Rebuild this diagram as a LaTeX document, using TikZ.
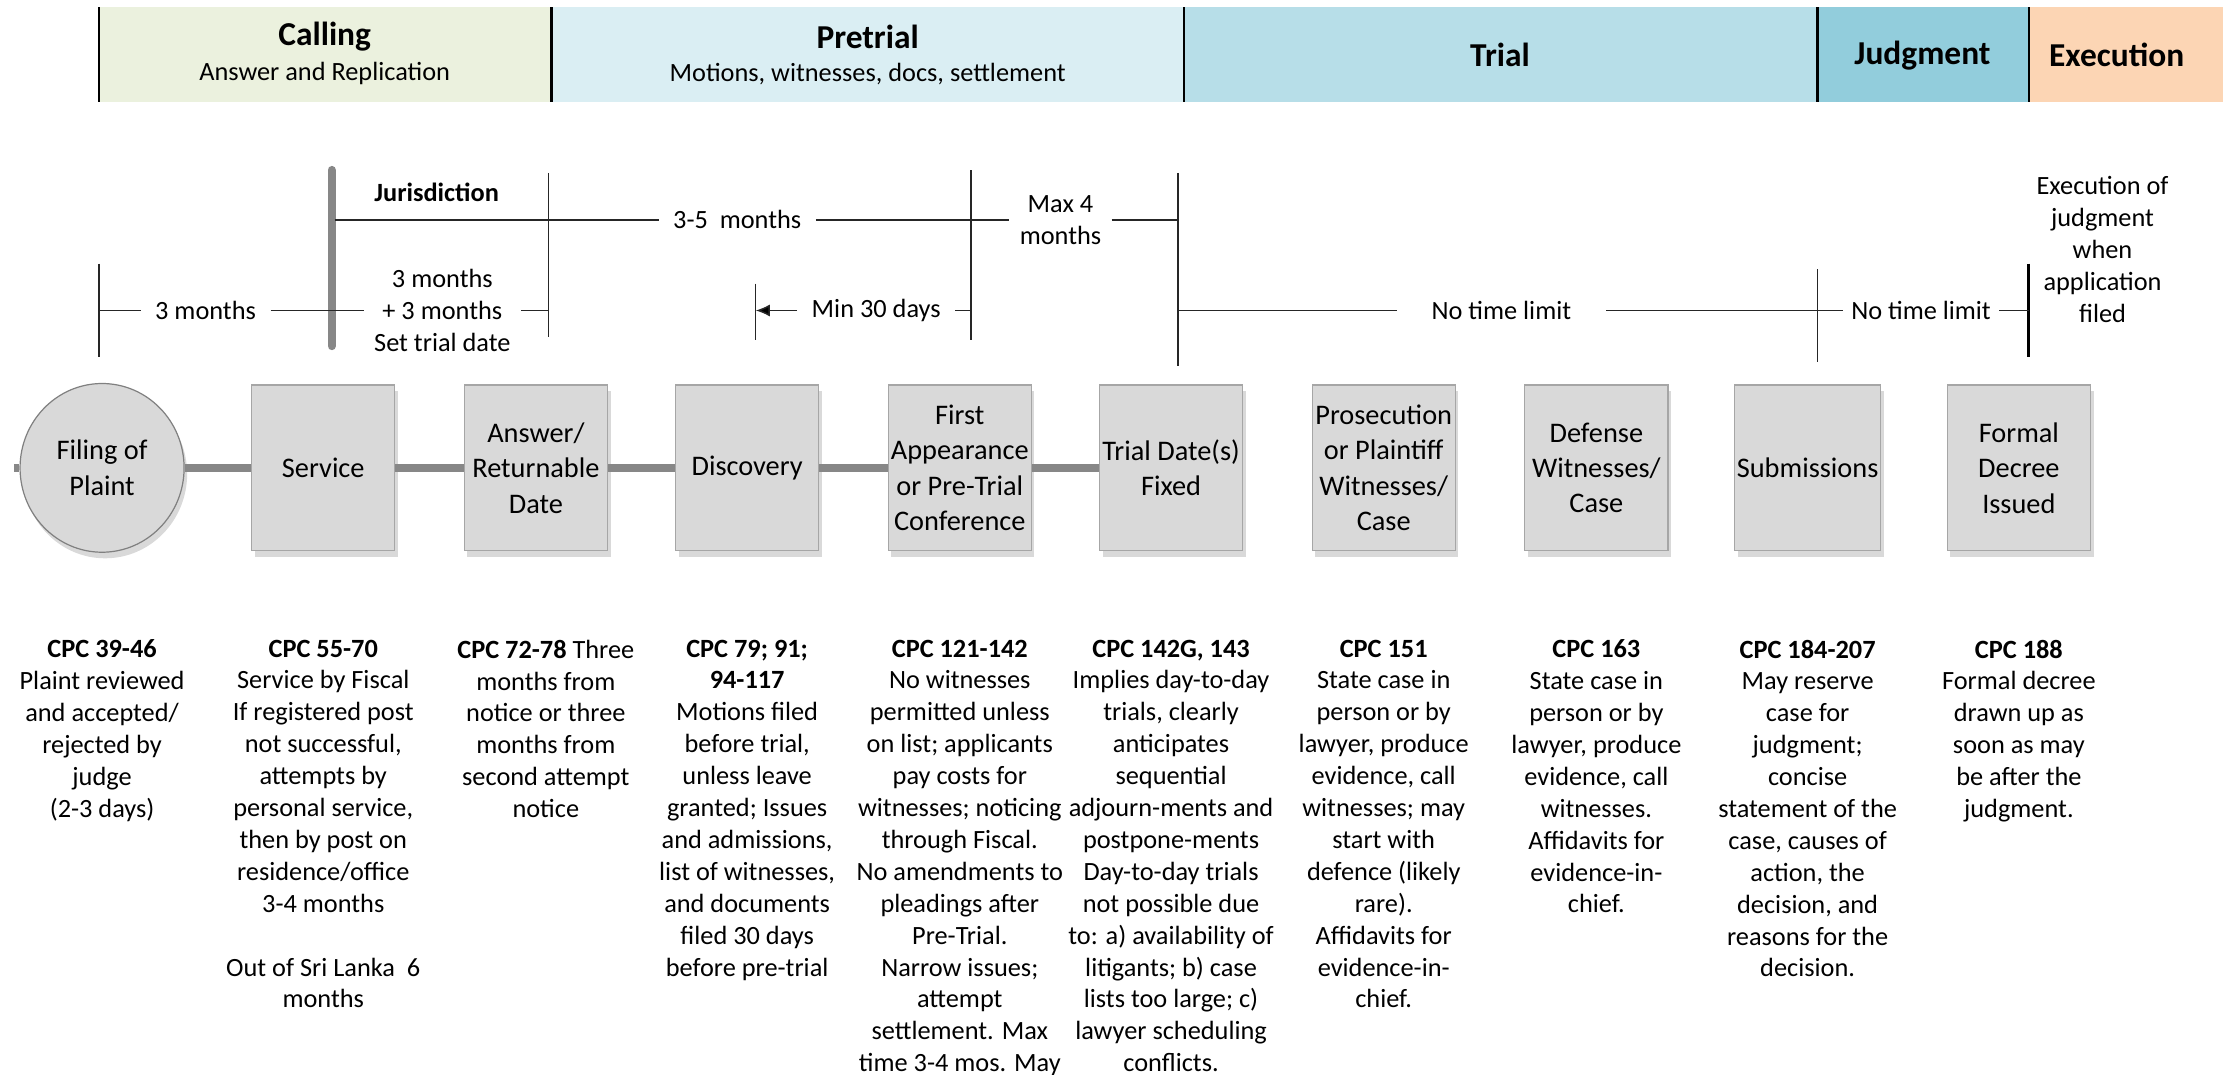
\documentclass[tikz,border=0pt]{standalone}
\usepackage{fontspec}
\setmainfont{Carlito}
\usetikzlibrary{shapes.geometric,shadows,arrows.meta,positioning}
\definecolor{callingfill}{HTML}{EBF1DE}
\definecolor{pretrialfill}{HTML}{DAEEF3}
\definecolor{trialfill}{HTML}{B7DEE8}
\definecolor{judgmentfill}{HTML}{92CDDC}
\definecolor{executionfill}{HTML}{FCD5B4}
\definecolor{boxfill}{HTML}{D9D9D9}
\definecolor{boxline}{HTML}{A6A6A6}
\definecolor{linkgray}{HTML}{878787}
\newcommand{\notefont}{\fontsize{13}{15.75}\selectfont}
\newcommand{\boxfont}{\fontsize{14}{17.5}\selectfont}
\newcommand{\titlefont}{\fontsize{16.5}{19}\selectfont\bfseries}
\begin{document}
\begin{tikzpicture}[x=0.7pt,y=-0.7pt,
    stage node/.style={rectangle,draw=boxline,line width=0.6pt,fill=boxfill,minimum width=70.7pt,minimum height=81.9pt,inner sep=1pt,align=center,font=\boxfont,drop shadow={shadow xshift=1.5pt,shadow yshift=-3pt,opacity=0.3}},
    start node/.style={ellipse,draw=black!50,line width=0.6pt,fill=boxfill,minimum width=81pt,minimum height=83.3pt,inner sep=1pt,align=center,font=\boxfont,drop shadow={shadow xshift=1.5pt,shadow yshift=-3pt,opacity=0.3}},
    time label/.style={align=center,font=\notefont,inner xsep=7pt,inner ysep=1pt},
    note node/.style={align=center,anchor=north,font=\notefont,inner sep=0pt},
    time line/.style={draw=black!85,line width=0.75pt},
    link/.style={draw=linkgray,line width=4.2pt}]
    \useasboundingbox (0,0) rectangle (1568,758);

    % phase band
    \fill[callingfill] (70,5) rectangle (389,72);
    \fill[pretrialfill] (389,5) rectangle (835,72);
    \fill[trialfill] (835,5) rectangle (1282,72);
    \fill[judgmentfill] (1282,5) rectangle (1431,72);
    \fill[executionfill] (1431,5) rectangle (1568,72);
    \draw[line width=1.2pt] (70,5) -- (70,72);
    \draw[line width=1.2pt] (389,5) -- (389,72);
    \draw[line width=1.2pt] (835,5) -- (835,72);
    \draw[line width=1.2pt] (1282,5) -- (1282,72);
    \draw[line width=1.2pt] (1431,5) -- (1431,72);
    \node[font=\titlefont] at (229,26) (calling) {Calling};
    \node[font=\notefont] at (229,52) (callingsub) {Answer and Replication};
    \node[font=\titlefont] at (612,26) (pretrial) {Pretrial};
    \node[font=\notefont] at (612,52) (pretrialsub) {Motions, witnesses, docs, settlement};
    \node[font=\titlefont] at (1058,39) (trial) {Trial};
    \node[font=\titlefont] at (1356,39) (judgment) {Judgment};
    \node[font=\titlefont] at (1493,39) (execution) {Execution};

    % time limits
    \coordinate (jtop) at (234,120);
    \coordinate (jbot) at (234,244);
    \draw[draw=linkgray,line width=4.2pt,line cap=round] (jtop) -- (jbot);
    \node[font=\notefont\bfseries] at (308,136) (jur) {Jurisdiction};
    \draw[time line] (70,186) -- (70,252);
    \draw[time line] (387,122) -- (387,238);
    \draw[time line] (533,200) -- (533,240);
    \draw[time line] (685,120) -- (685,240);
    \draw[time line] (831,122) -- (831,258);
    \draw[time line] (1282,190) -- (1282,255);
    \draw[line width=1.5pt] (1431,186) -- (1431,252);
    \coordinate (a0) at (70,219);
    \coordinate (b0) at (387,219);
    \coordinate (c0) at (533,219);
    \coordinate (d0) at (685,219);
    \coordinate (e0) at (831,219);
    \coordinate (f0) at (1282,219);
    \coordinate (g0) at (1431,219);
    \coordinate (j1) at (236,155);
    \coordinate (c1) at (685,155);
    \coordinate (d1) at (831,155);
    \node[time label] at (145,219) (three) {3 months};
    \node[time label,inner xsep=5pt] at (312,219) (sixm) {3 months\\+ 3 months\\Set trial date};
    \node[time label] at (520,155) (threefive) {3-5\ \ months};
    \node[time label,inner xsep=5pt] at (748,155) (maxfour) {Max 4\\months};
    \node[time label] at (618,219) (minthirty) {Min 30 days};
    \node[time label,inner xsep=17pt] at (1059,219) (nolimit) {No time limit};
    \node[time label,inner xsep=4pt] at (1355,219) (nolimitb) {No time limit};
    \node[time label] at (1483,176) (exec) {Execution of\\judgment\\when\\application\\filed};
    \path[time line] (a0) edge (three);
    \path[time line] (three) edge (sixm);
    \path[time line] (sixm) edge (b0);
    \path[time line] (j1) edge (threefive);
    \path[time line] (threefive) edge (c1);
    \path[time line] (c1) edge (maxfour);
    \path[time line] (maxfour) edge (d1);
    \path[time line,-{Latex[length=7pt,width=6pt]}] (minthirty) edge (c0);
    \path[time line] (minthirty) edge (d0);
    \path[time line] (e0) edge (nolimit);
    \path[time line] (nolimit) edge (f0);
    \path[time line] (f0) edge (nolimitb);
    \path[time line] (nolimitb) edge (g0);

    % stages
    \node[start node] at (72,330) (plaint) {Filing of\\Plaint};
    \node[stage node] at (228,330) (service) {Service};
    \node[stage node] at (378,330) (answer) {Answer/\\Returnable\\Date};
    \node[stage node] at (527,330) (discovery) {Discovery};
    \node[stage node] at (677,330) (firstapp) {First\\Appearance\\or Pre-Trial\\Conference};
    \node[stage node] at (826,330) (trialdate) {Trial Date(s)\\Fixed};
    \node[stage node] at (976,330) (prosecution) {Prosecution\\or Plaintiff\\Witnesses/\\Case};
    \node[stage node] at (1126,330) (defense) {Defense\\Witnesses/\\Case};
    \node[stage node] at (1275,330) (submissions) {Submissions};
    \node[stage node] at (1424,330) (decree) {Formal\\Decree\\Issued};
    \coordinate (start) at (10,330);
    \path[link] (start) edge (plaint.west);
    \path[link] (plaint) edge (service);
    \path[link] (service) edge (answer);
    \path[link] (answer) edge (discovery);
    \path[link] (discovery) edge (firstapp);
    \path[link] (firstapp) edge (trialdate);

    % rules and notes
    \node[note node] at (72,451) (cpca) {\textbf{CPC 39-46}\\Plaint reviewed\\and accepted/\\rejected by\\judge\\(2-3 days)};
    \node[note node] at (228,451) (cpcb) {\textbf{CPC 55-70}\\Service by Fiscal\\If registered post\\not successful,\\attempts by\\personal service,\\then by post on\\residence/office\\3-4 months\\[15.75pt]Out of Sri Lanka\ \ 6\\months};
    \node[note node] at (385,451) (cpcc) {\textbf{CPC 72-78} Three\\months from\\notice or three\\months from\\second attempt\\notice};
    \node[note node] at (527,451) (cpcd) {\textbf{CPC 79; 91;}\\\textbf{94-117}\\Motions filed\\before trial,\\unless leave\\granted; Issues\\and admissions,\\list of witnesses,\\and documents\\filed 30 days\\before pre-trial};
    \node[note node] at (677,451) (cpce) {\textbf{CPC 121-142}\\No witnesses\\permitted unless\\on list; applicants\\pay costs for\\witnesses; noticing\\through Fiscal.\\No amendments to\\pleadings after\\Pre-Trial.\\Narrow issues;\\attempt\\settlement. Max\\time 3-4 mos. May};
    \node[note node] at (826,451) (cpcf) {\textbf{CPC 142G, 143}\\Implies day-to-day\\trials, clearly\\anticipates\\sequential\\adjourn-ments and\\postpone-ments\\Day-to-day trials\\not possible due\\to: a) availability of\\litigants; b) case\\lists too large; c)\\lawyer scheduling\\conflicts.};
    \node[note node] at (976,451) (cpcg) {\textbf{CPC 151}\\State case in\\person or by\\lawyer, produce\\evidence, call\\witnesses; may\\start with\\defence (likely\\rare).\\Affidavits for\\evidence-in-\\chief.};
    \node[note node] at (1126,451) (cpch) {\textbf{CPC 163}\\State case in\\person or by\\lawyer, produce\\evidence, call\\witnesses.\\Affidavits for\\evidence-in-\\chief.};
    \node[note node] at (1275,451) (cpci) {\textbf{CPC 184-207}\\May reserve\\case for\\judgment;\\concise\\statement of the\\case, causes of\\action, the\\decision, and\\reasons for the\\decision.};
    \node[note node] at (1424,451) (cpcj) {\textbf{CPC 188}\\Formal decree\\drawn up as\\soon as may\\be after the\\judgment.};
\end{tikzpicture}
\end{document}
